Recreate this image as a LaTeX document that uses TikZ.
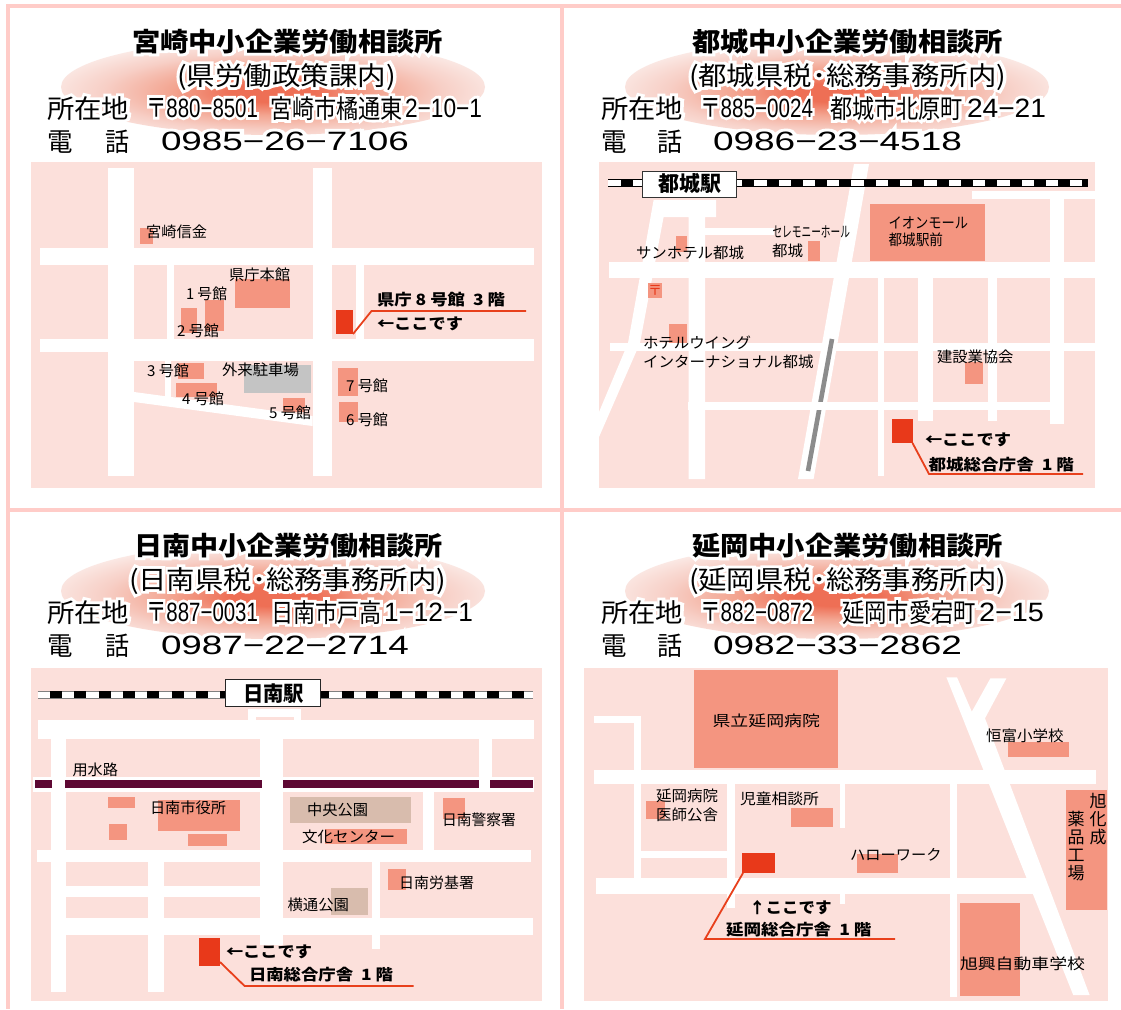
\documentclass[tikz,border=0pt]{standalone}
\usepackage{fontspec}
\usepackage{graphicx}
\setmainfont{Noto Sans CJK JP}
\newfontfamily\digfont{Liberation Sans}
\newfontfamily\postplain{Noto Sans CJK JP}
\newfontfamily\postfat[FakeBold=22]{Noto Sans CJK JP}
\newcommand\halofat{\addfontfeature{FakeBold=22}}
\newcommand\post{{\postplain 〒}}
\definecolor{mapbg}{HTML}{FCE0DB}
\definecolor{frm}{HTML}{FFCCC8}
\definecolor{bld}{HTML}{F49580}
\definecolor{spot}{HTML}{E8391A}
\definecolor{leader}{HTML}{E8401C}
\definecolor{park}{HTML}{D8BCAD}
\definecolor{lot}{HTML}{C4C4C4}
\definecolor{canal}{HTML}{5E0833}
\definecolor{track}{HTML}{8C8C8C}
\definecolor{hcen}{HTML}{EE6F55}
\definecolor{hmid}{HTML}{F3A591}
\definecolor{hout}{HTML}{F7CFC6}
\definecolor{hedge}{HTML}{FBEAE6}
\pgfdeclareradialshading{hdr}{\pgfpoint{0bp}{-3bp}}{color(0bp)=(hcen);color(5bp)=(hcen);color(12bp)=(hmid);color(20bp)=(hout);color(27bp)=(hedge);color(100bp)=(hedge)}
\newcounter{tn}
\tikzset{
 txt/.style={anchor=base west,inner sep=0pt,outer sep=0pt,text=black},
 lab/.style={txt,font=\fontsize{15}{15}\selectfont},
 bd/.style={txt,font=\fontsize{15.5}{15.5}\selectfont\bfseries},
 stn/.style={txt,font=\fontsize{21}{21}\selectfont\bfseries},
 ttl/.style={txt,font=\fontsize{26}{26}\selectfont\bfseries},
 sub/.style={txt,font=\fontsize{26}{26}\selectfont},
 adr/.style={txt,font=\fontsize{26}{26}\selectfont},
 dig/.style={txt,font=\fontsize{26.5}{26.5}\selectfont\digfont},
 road/.style={fill=white},
 house/.style={fill=bld},
 here/.style={fill=spot},
 lead/.style={draw=leader,line width=1.8pt,line join=miter},
 rule/.style={fill=frm},
 vlab/.style={inner sep=0pt,align=center,font=\fontsize{17}{18}\selectfont},
}
% x, baseline, width, text
\newcommand\LB[5][lab]{\stepcounter{tn}\node[#1] (t\arabic{tn}) at (#2,#3) {\resizebox{#4pt}{\height}{#5}};}
% same with a white glow behind the glyphs
\newcommand\HL[5][adr]{\stepcounter{tn}\node[#1] (t\arabic{tn}) at (#2,#3) {\resizebox{#4pt}{\height}{\rlap{\renewcommand\post{{\postfat 〒}}\halofat\color{white}#5}#5}};}
\newcommand\Head[1]{\shade[shading=hdr] (#1) ellipse [x radius=212pt,y radius=48pt];}
\newcommand\Rail[4]{% x1 x2 y firstblack
 \draw[black,line width=8pt] (#1,#3) -- (#2,#3);
 \draw[white,line width=5.6pt] (#1,#3) -- (#2,#3);
 \draw[black,line width=8pt,dash pattern=on 12pt off 12.3pt] (#4,#3) -- (#2,#3);}
\begin{document}
\begin{tikzpicture}[x=1pt,y=-1pt]
\useasboundingbox (0,0) rectangle (1121,1009);
\fill[white] (0,0) rectangle (1121,1009);
% frame
\fill[rule] (6.4,4) rectangle (1121,7.7);
\fill[rule] (6.4,4) rectangle (10,1009);
\fill[rule] (560,4) rectangle (563.5,1009);
\fill[rule] (6.4,508.3) rectangle (1121,511.7);

% ---------- panel 1
\Head{273,87}
\HL[ttl]{132}{51}{311}{宮崎中小企業労働相談所}
\HL[sub]{177}{85}{219}{(県労働政策課内)}
\HL{47}{118}{82}{所在地}
\HL[dig]{146}{117}{112}{\post 880−8501}
\HL{270}{118}{133}{宮崎市橘通東}
\HL[dig]{405}{117}{77}{2−10−1}
\HL{47}{151}{25.5}{電}
\HL{105}{151}{24}{話}
\HL[dig]{161}{150}{248}{0985−26−7106}
\fill[mapbg] (31,162) rectangle (542,488);
\fill[road] (107.5,168) rectangle (134,476);
\fill[road] (312.5,168) rectangle (332,476);
\fill[road] (40,248) rectangle (534,265);
\fill[road] (40,339) rectangle (534,352);
\fill[road] (134,339) rectangle (534,361);
\fill[road] (167,265) rectangle (174,339);
\fill[road] (356,265) rectangle (364,339);
\fill[road] (165,361) rectangle (171,397);
\fill[road] (134,392) -- (134,402) -- (312.5,426) -- (312.5,416) -- cycle;
\fill[house] (140,228) rectangle (153,244);
\fill[house] (235,279) rectangle (290,308);
\fill[house] (205,300) rectangle (224,331);
\fill[house] (181,308) rectangle (197,333);
\fill[house] (178,363) rectangle (204,379);
\fill[house] (176,383) rectangle (217,397);
\fill[lot] (244,365) rectangle (311,393);
\fill[house] (283,398) rectangle (305,412);
\fill[house] (338,368) rectangle (358,396);
\fill[house] (339,402) rectangle (358,422);
\fill[here] (336,310) rectangle (353,334);
\draw[lead] (353,334) -- (371.5,311) -- (526,311);
\LB{146}{237}{61}{宮崎信金}
\LB{229}{280}{61}{県庁本館}
\LB{186}{299}{41}{1 号館}
\LB{177}{336}{42}{2 号館}
\LB{147}{376}{42}{3 号館}
\LB{222}{375}{77}{外来駐車場}
\LB{182}{404}{42}{4 号館}
\LB{269}{418}{42}{5 号館}
\LB{346}{391}{42}{7 号館}
\LB{346}{425}{42}{6 号館}
\LB[bd]{377}{305}{128}{県庁 8 号館\ \ 3 階}
\LB[bd]{377}{329}{86}{←ここです}

% ---------- panel 2
\Head{837,87}
\HL[ttl]{692}{51}{311}{都城中小企業労働相談所}
\HL[sub]{689}{85}{317}{(都城県税･総務事務所内)}
\HL{601}{118}{82}{所在地}
\HL[dig]{700}{117}{113}{\post 885−0024}
\HL{830}{118}{133}{都城市北原町}
\HL[dig]{967}{117}{79}{24−21}
\HL{601}{151}{25.5}{電}
\HL{657.5}{151}{25}{話}
\HL[dig]{713}{150}{249}{0986−23−4518}
\fill[mapbg] (599,162) rectangle (1095,488);
\fill[road] (653.6,200) -- (716,200) -- (716,217) -- (705,217) -- (705,479) -- (688.5,479) -- (688.5,217) -- (663.6,217) -- (640,343) -- (599,437) -- (599,412) -- (628,343) -- cycle;
\fill[road] (705,228) rectangle (774,235);
\fill[road] (609,262) rectangle (1095,278);
\fill[road] (854,164) -- (869,164) -- (813.6,479) -- (798,479) -- cycle;
\fill[road] (972,191) rectangle (1095,199);
\fill[road] (1050,199) rectangle (1064,424);
\fill[road] (610,343) rectangle (1095,351);
\fill[road] (877.5,278) rectangle (884,476);
\fill[road] (918,278) rectangle (932.5,421);
\fill[road] (987.5,278) rectangle (997,421);
\draw[track,line width=4.6pt] (832,339) -- (808,471);
\fill[road] (688,402) rectangle (1050,410);
\Rail{608}{1088}{183}{620.7}
\node[draw=black!80,fill=white,line width=0.9pt,inner sep=0pt,minimum width=94pt,minimum height=26pt] (stA) at (689,184) {};
\fill[house] (676,236) rectangle (687,252);
\fill[house] (807.5,241) rectangle (820,261);
\fill[house] (870,204) rectangle (985,261);
\fill[house] (648,283) rectangle (662,298);
\node[inner sep=0pt,text=spot,font=\fontsize{14}{14}\selectfont] (post) at (655,290.5) {〒};
\fill[house] (669,324) rectangle (687,343);
\fill[house] (965,362) rectangle (983,384);
\fill[here] (891.5,419) rectangle (912.5,443);
\draw[lead] (912.5,443) -- (929,474) -- (1083,474);
\LB[stn]{658}{191}{63}{都城駅}
\LB{636}{258}{108}{サンホテル都城}
\LB{772.5}{237}{77.5}{セレモニーホール}
\LB{772}{256}{31}{都城}
\LB{888.5}{228}{79.5}{イオンモール}
\LB{888.5}{245}{54.5}{都城駅前}
\LB{643}{348}{108}{ホテルウイング}
\LB{643}{367}{170.5}{インターナショナル都城}
\LB{937}{362}{76.5}{建設業協会}
\LB[bd]{925}{445}{86}{←ここです}
\LB[bd]{928.6}{470}{145.4}{都城総合庁舎\ \ 1 階}

% ---------- panel 3
\Head{273,591}
\HL[ttl]{134}{555}{309}{日南中小企業労働相談所}
\HL[sub]{129}{589}{317}{(日南県税･総務事務所内)}
\HL{47}{622}{82}{所在地}
\HL[dig]{146}{621}{112}{\post 887−0031}
\HL{271}{622}{111}{日南市戸高}
\HL[dig]{384}{621}{89}{1−12−1}
\HL{47}{655}{25.5}{電}
\HL{105}{655}{24}{話}
\HL[dig]{161}{654}{248}{0987−22−2714}
\fill[mapbg] (31,668) rectangle (542,1001);
\fill[road] (248,709) rectangle (301,720);
\fill[mapbg] (256,717) rectangle (294,720);
\fill[road] (37.5,720) rectangle (534,739);
\fill[road] (51,739) rectangle (66,992);
\fill[road] (260,739) rectangle (283,945);
\fill[road] (147.5,862) rectangle (164,992);
\fill[road] (422.5,792) rectangle (434,850);
\fill[road] (478.5,739) rectangle (492,790);
\fill[road] (33,777) rectangle (534,792);
\fill[canal] (35,780) rectangle (52,788);
\fill[canal] (65,780) rectangle (262,788);
\fill[canal] (283,780) rectangle (479,788);
\fill[canal] (490,780) rectangle (533,788);
\fill[road] (37,850) rectangle (531,862);
\fill[road] (66,886) rectangle (260,897);
\fill[road] (51,918) rectangle (533,935);
\fill[road] (372,862) rectangle (380,949);
\draw[gray,line width=8pt] (37.5,694.5) -- (533,694.5);
\draw[white,line width=6pt] (37.5,694.5) -- (533,694.5);
\draw[black,line width=7pt,dash pattern=on 12pt off 12.3pt] (50,694.5) -- (533,694.5);
\node[draw=black!85,fill=white,line width=0.9pt,inner sep=0pt,minimum width=95pt,minimum height=27pt] (stB) at (272.5,692.5) {};
\fill[house] (108,797) rectangle (135,808);
\fill[house] (109,824) rectangle (127,840);
\fill[house] (158,800) rectangle (240,831);
\fill[house] (188,834) rectangle (227,846);
\fill[park] (290,797) rectangle (411,823);
\fill[house] (325,829) rectangle (407,844);
\fill[house] (443,798) rectangle (465,819);
\fill[house] (388,869) rectangle (406,890);
\fill[park] (331,888) rectangle (368,915);
\fill[here] (199,938) rectangle (220,966);
\draw[lead] (220,962) -- (244.6,986) -- (413.6,986);
\LB[stn]{243}{701}{61}{日南駅}
\LB{72.5}{775}{45.5}{用水路}
\LB{150}{813}{76}{日南市役所}
\LB{307}{815}{61}{中央公園}
\LB{302}{842}{93}{文化センター}
\LB{442}{825}{74}{日南警察署}
\LB{399}{888}{75}{日南労基署}
\LB{287.5}{910}{61.5}{横通公園}
\LB[bd]{226}{957}{86}{←ここです}
\LB[bd]{249}{980}{144}{日南総合庁舎\ \ 1 階}

% ---------- panel 4
\Head{837,591}
\HL[ttl]{692}{555}{311}{延岡中小企業労働相談所}
\HL[sub]{689}{589}{317}{(延岡県税･総務事務所内)}
\HL{601}{622}{82}{所在地}
\HL[dig]{700}{621}{113}{\post 882−0872}
\HL{842}{622}{134}{延岡市愛宕町}
\HL[dig]{979}{621}{65}{2−15}
\HL{601}{655}{25.5}{電}
\HL{657.5}{655}{25}{話}
\HL[dig]{713}{654}{249}{0982−33−2862}
\fill[mapbg] (584,668) rectangle (1108,1001);
\fill[road] (594,716) rectangle (641,723);
\fill[road] (634,716) rectangle (641,878);
\fill[road] (594,770) rectangle (1096,784);
\fill[road] (641,851) rectangle (727,858);
\fill[road] (727,784) rectangle (735,908);
\fill[road] (840,784) rectangle (845,828);
\fill[road] (840,894) rectangle (845,904);
\fill[road] (596,878) rectangle (1035,894);
\fill[road] (950,784) rectangle (957,997);
\fill[road] (946.4,677.3) -- (957,677.3) -- (971.8,711.7) -- (990.4,678.3) -- (1006.4,678.3) -- (985,718.3) -- (1089.6,995) -- (1073.2,995) -- cycle;
\fill[house] (694,670) rectangle (837.5,768);
\fill[house] (1008,742) rectangle (1069,757);
\fill[house] (1066,790) rectangle (1107,910);
\fill[house] (646,801) rectangle (665,819);
\fill[house] (791,808) rectangle (832.5,827);
\fill[house] (856.5,854) rectangle (897.5,873);
\fill[house] (960,903) rectangle (1020,996);
\fill[here] (742,853) rectangle (775,873);
\draw[lead] (743,873) -- (705,939) -- (895,939);
\LB{712.5}{726}{107.5}{県立延岡病院}
\LB{986}{741}{77.5}{恒富小学校}
\LB{656}{801}{62}{延岡病院}
\LB{656}{820}{62}{医師公舎}
\LB{740}{804}{79}{児童相談所}
\LB{850}{860}{91.5}{ハローワーク}
\LB[bd]{749}{913}{82.5}{↑ここです}
\LB[bd]{726}{935}{145.5}{延岡総合庁舎\ \ 1 階}
\LB{960}{969}{125}{旭興自動車学校}
\node[vlab,anchor=north] (asahi) at (1098,793) {旭\\化\\成};
\node[vlab,anchor=north] (yaku) at (1076,811) {薬\\品\\工\\場};
\end{tikzpicture}
\end{document}
